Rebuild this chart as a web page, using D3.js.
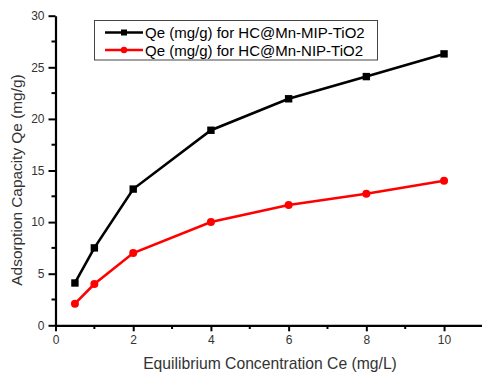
<!DOCTYPE html>
<html><head><meta charset="utf-8">
<script src="https://cdn.jsdelivr.net/npm/d3@7"></script>
<style>body{margin:0;background:#fff}svg{display:block}text{font-family:"Liberation Sans",Arial,sans-serif}</style>
</head><body><svg id="c" width="482" height="373"></svg>
<script>
const xValues = [0.5, 1, 2, 4, 6, 8, 10];
const mipValues = [4.1, 7.5, 13.2, 18.9, 21.95, 24.1, 26.3];
const nipValues = [2.1, 4.0, 7.0, 10.0, 11.65, 12.75, 14.0];
const seriesNames = ["Qe (mg/g) for HC@Mn-MIP-TiO2", "Qe (mg/g) for HC@Mn-NIP-TiO2"];
const xTicks = [0, 2, 4, 6, 8, 10];
const yTicks = [0, 5, 10, 15, 20, 25, 30];
const xTitle = "Equilibrium Concentration Ce (mg/L)";
const yTitle = "Adsorption Capacity Qe (mg/g)";

const svg = d3.select("#c");
const x = d3.scaleLinear().domain([0, 11]).range([55.5, 482.9]);
const y = d3.scaleLinear().domain([0, 30]).range([325.3, 15.7]);
const txt = "#333";

// minor ticks
const xMinor = d3.range(1, 11, 2);
const yMinor = d3.range(2.5, 30, 5);
svg.append("g").selectAll("line").data(xMinor).join("line")
  .attr("x1", d => x(d)).attr("x2", d => x(d)).attr("y1", 325.3).attr("y2", 329)
  .attr("stroke", "#000").attr("stroke-width", 2);
svg.append("g").selectAll("line").data(yMinor).join("line")
  .attr("y1", d => y(d)).attr("y2", d => y(d)).attr("x1", 55.5).attr("x2", 51.5)
  .attr("stroke", "#000").attr("stroke-width", 2);

const gx = svg.append("g").attr("transform", "translate(0,325.3)")
  .call(d3.axisBottom(x).tickValues(xTicks).tickSize(6).tickPadding(4).tickSizeOuter(0));
const gy = svg.append("g").attr("transform", "translate(55.5,0)")
  .call(d3.axisLeft(y).tickValues(yTicks).tickSize(7).tickPadding(4).tickSizeOuter(0));
[gx, gy].forEach(g => {
  g.select(".domain").attr("stroke", "#000").attr("stroke-width", 2.2);
  g.selectAll(".tick line").attr("stroke", "#000").attr("stroke-width", 2);
  g.selectAll(".tick text").attr("fill", txt).style("font-size", "12px").style("font-family", '"Liberation Sans",Arial,sans-serif');
});

svg.append("text").attr("x", 270).attr("y", 369).attr("text-anchor", "middle")
  .attr("fill", txt).style("font-size", "15.7px").text(xTitle);
svg.append("text").attr("transform", "translate(22,180) rotate(-90)").attr("text-anchor", "middle")
  .attr("fill", txt).style("font-size", "15.4px").text(yTitle);

const line = d3.line().x((d, i) => x(xValues[i])).y(d => y(d));
svg.append("path").datum(mipValues).attr("d", line).attr("fill", "none").attr("stroke", "#000").attr("stroke-width", 2.6);
svg.append("path").datum(nipValues).attr("d", line).attr("fill", "none").attr("stroke", "#ff0000").attr("stroke-width", 2.6);
svg.append("g").selectAll("rect").data(mipValues).join("rect")
  .attr("x", (d, i) => x(xValues[i]) - 3.7).attr("y", d => y(d) - 3.7)
  .attr("width", 7.4).attr("height", 7.4).attr("fill", "#000");
svg.append("g").selectAll("circle").data(nipValues).join("circle")
  .attr("cx", (d, i) => x(xValues[i])).attr("cy", d => y(d)).attr("r", 4).attr("fill", "#ff0000");

// legend
const lg = svg.append("g");
lg.append("rect").attr("x", 94.5).attr("y", 20.5).attr("width", 283).attr("height", 39.5)
  .attr("fill", "#fff").attr("stroke", "#444").attr("stroke-width", 1);
const colors = ["#000", "#ff0000"];
const rowsY = [32.5, 50];
seriesNames.forEach((n, i) => {
  lg.append("line").attr("x1", 105).attr("x2", 143).attr("y1", rowsY[i]).attr("y2", rowsY[i])
    .attr("stroke", colors[i]).attr("stroke-width", 2.6);
  if (i === 0) lg.append("rect").attr("x", 121).attr("y", rowsY[i] - 3).attr("width", 6).attr("height", 6).attr("fill", "#000");
  else lg.append("circle").attr("cx", 124).attr("cy", rowsY[i]).attr("r", 3.2).attr("fill", "#ff0000");
  lg.append("text").attr("x", 145).attr("y", rowsY[i] + 5.5).attr("fill", "#000")
    .style("font-size", "15px").text(n);
});
</script></body></html>
